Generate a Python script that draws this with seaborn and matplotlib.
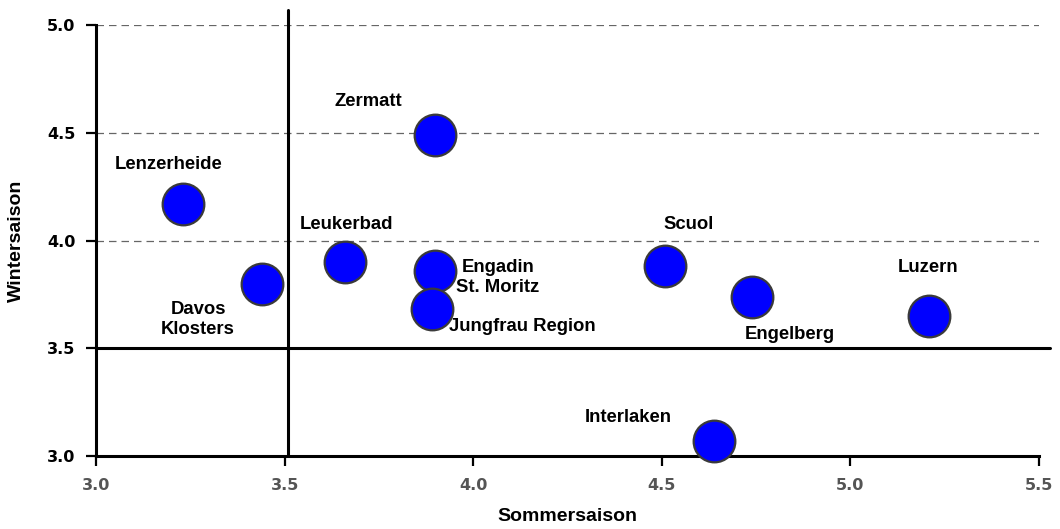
import matplotlib
matplotlib.use("Agg")
import matplotlib.pyplot as plt
import seaborn as sns
import pandas as pd

# Destination ratings: summer season (x) vs. winter season (y)
resorts = ["Lenzerheide", "Davos\nKlosters", "Leukerbad", "Zermatt",
           "Engadin\nSt. Moritz", "Jungfrau Region", "Scuol", "Engelberg",
           "Luzern", "Interlaken"]
sommer = [3.23, 3.44, 3.66, 3.90, 3.90, 3.89, 4.51, 4.74, 5.21, 4.64]
winter = [4.17, 3.80, 3.90, 4.49, 3.86, 3.68, 3.88, 3.74, 3.65, 3.07]

x_ticks = [3.0, 3.5, 4.0, 4.5, 5.0, 5.5]
y_ticks = [3.0, 3.5, 4.0, 4.5, 5.0]
grid_levels = [4.0, 4.5, 5.0]
x_split = 3.51
y_split = 3.5

# label placement relative to each marker (points)
label_offsets = {
    "Lenzerheide": (-10, 28),
    "Davos\nKlosters": (-46, -26),
    "Leukerbad": (1, 27),
    "Zermatt": (-48, 24),
    "Engadin\nSt. Moritz": (45, -5),
    "Jungfrau Region": (65, -12),
    "Scuol": (17, 30),
    "Engelberg": (27, -27),
    "Luzern": (-1, 35),
    "Interlaken": (-62, 17),
}

df = pd.DataFrame({"resort": resorts, "Sommersaison": sommer, "Wintersaison": winter})

sns.set_theme(style="white")
plt.rcParams["font.family"] = ["Liberation Sans", "DejaVu Sans"]
plt.rcParams["font.weight"] = "bold"

fig = plt.figure(figsize=(10.6, 5.29), dpi=100)
ax = fig.add_axes([0.0906, 0.138, 0.8894, 0.8147])

ax.set_xlim(3.0, 5.5)
ax.set_ylim(3.0, 5.0)

for lvl in grid_levels:
    ax.axhline(lvl, color="#666666", lw=0.9, ls=(0, (6, 4)), zorder=1)

ax.plot([x_split, x_split], [3.0, 5.07], color="black", lw=2.2,
        clip_on=False, zorder=2)
ax.plot([3.0, 5.53], [y_split, y_split], color="black", lw=2.2,
        clip_on=False, zorder=2)

sns.scatterplot(data=df, x="Sommersaison", y="Wintersaison", ax=ax,
                s=900, color="#0000FF", edgecolor="#3a3a3a", linewidth=1.6,
                zorder=4, clip_on=False, legend=False)

for name, xv, yv in zip(resorts, sommer, winter):
    dx, dy = label_offsets[name]
    ax.annotate(name, (xv, yv), xytext=(dx, dy), textcoords="offset points",
                ha="center", va="center", fontsize=13.3, fontweight="bold",
                color="black", linespacing=1.2, zorder=5)

ax.set_xticks(x_ticks)
ax.set_yticks(y_ticks)
ax.set_xticklabels([f"{v:.1f}" for v in x_ticks], color="#555555",
                   fontsize=11.5, fontweight="bold", family="DejaVu Sans")
ax.set_yticklabels([f"{v:.1f}" for v in y_ticks], color="black",
                   fontsize=11.5, fontweight="bold", family="DejaVu Sans")
ax.tick_params(axis="both", which="major", direction="out", length=7,
               width=1.6, color="black", bottom=True, left=True)
ax.tick_params(axis="x", pad=9)
ax.tick_params(axis="y", pad=8)

for side in ("top", "right"):
    ax.spines[side].set_visible(False)
for side in ("left", "bottom"):
    ax.spines[side].set_color("black")
    ax.spines[side].set_linewidth(2.2)
    ax.spines[side].set_zorder(3)

ax.set_xlabel("Sommersaison", fontsize=14, fontweight="bold", color="black")
ax.set_ylabel("Wintersaison", fontsize=14, fontweight="bold", color="black")
ax.xaxis.set_label_coords(0.5, -0.121)
ax.yaxis.set_label_coords(-0.0753, 0.5)

fig.savefig("out.png", dpi=100, facecolor="white")
